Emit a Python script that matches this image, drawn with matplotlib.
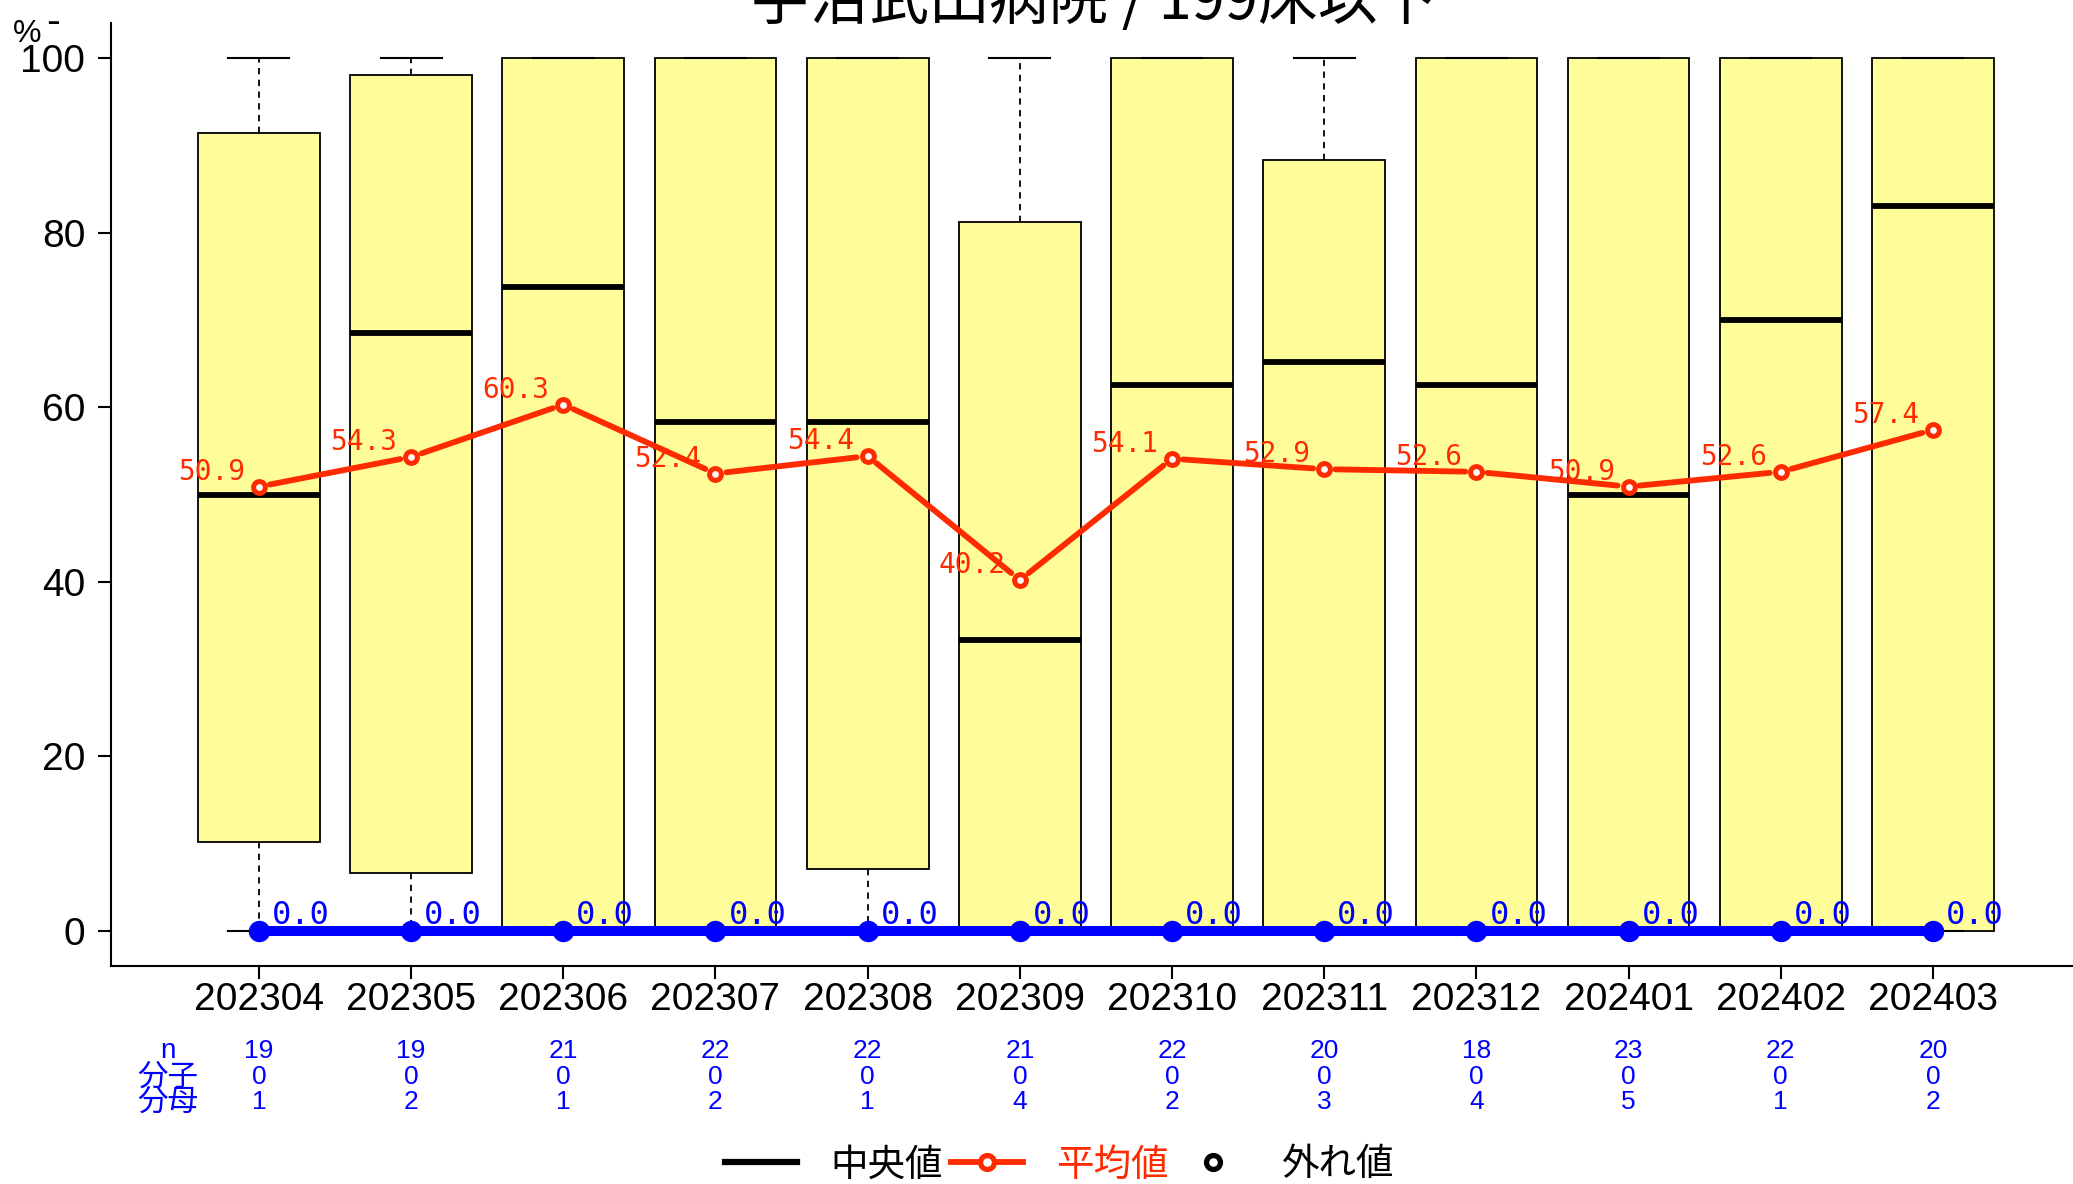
import numpy as np
import matplotlib.pyplot as plt
from matplotlib.lines import Line2D
from matplotlib.transforms import blended_transform_factory

# --- data ---
months = ['202304', '202305', '202306', '202307', '202308', '202309',
          '202310', '202311', '202312', '202401', '202402', '202403']
means = [50.9, 54.3, 60.3, 52.4, 54.4, 40.2, 54.1, 52.9, 52.6, 50.9, 52.6, 57.4]
medians = [50.0, 68.5, 73.8, 58.3, 58.3, 33.3, 62.5, 65.2, 62.5, 50.0, 70.0, 83.0]
q1 = [10.2, 6.7, 0, 0, 7.1, 0, 0, 0, 0, 0, 0, 0]
q3 = [91.4, 98.0, 100, 100, 100, 81.2, 100, 88.3, 100, 100, 100, 100]
whis_lo = [0, 0, 0, 0, 0, 0, 0, 0, 0, 0, 0, 0]
whis_hi = [100, 100, 100, 100, 100, 100, 100, 100, 100, 100, 100, 100]
rates = [0.0, 0.0, 0.0, 0.0, 0.0, 0.0, 0.0, 0.0, 0.0, 0.0, 0.0, 0.0]
n_vals = [19, 19, 21, 22, 22, 21, 22, 20, 18, 23, 22, 20]
bunshi = [0, 0, 0, 0, 0, 0, 0, 0, 0, 0, 0, 0]
bunbo = [1, 2, 1, 2, 1, 4, 2, 3, 4, 5, 1, 2]
title = '宇治武田病院 / 199床以下'

RED = '#ff2b00'
BLUE = '#0000ff'
BOX = '#fffd99'
JP = 'Noto Sans CJK JP'
SANS = 'Liberation Sans'
MONO = 'DejaVu Sans Mono'

plt.rcParams['font.family'] = [SANS, JP]

W, H = 2073, 1184
fig = plt.figure(figsize=(W / 100, H / 100), dpi=100)
ax = fig.add_axes([111 / W, 1 - 966 / H, 1 - 111 / W, (966 - 23) / H])

x = np.arange(len(months))

# boxes
stats = []
for i in range(len(months)):
    stats.append(dict(med=medians[i], q1=q1[i], q3=q3[i],
                      whislo=whis_lo[i], whishi=whis_hi[i], fliers=[]))
ax.bxp(stats, positions=x, widths=0.8, capwidths=0.4, patch_artist=True,
       showfliers=False,
       boxprops=dict(facecolor=BOX, edgecolor='black', linewidth=1.3),
       medianprops=dict(color='black', linewidth=4.2, solid_capstyle='butt'),
       whiskerprops=dict(color='black', linewidth=1.3, linestyle=(0, (3.5, 3))),
       capprops=dict(color='black', linewidth=1.5))

# mean line, segments stop short of the markers
for i in range(len(x) - 1):
    ax.annotate('', xy=(x[i + 1], means[i + 1]), xytext=(x[i], means[i]),
                arrowprops=dict(arrowstyle='-', color=RED, lw=4.2,
                                shrinkA=8, shrinkB=8), zorder=5)
ax.plot(x, means, 'o', ls='none', ms=8.5, mew=3.6, mfc='white', mec=RED, zorder=6)
for xi, m in zip(x, means):
    ax.annotate(f'{m:.1f}', (xi, m), xytext=(-10, 5), textcoords='offset points',
                ha='right', va='baseline', color=RED, fontsize=20,
                family=MONO, zorder=7)

# rate line (blue)
ax.plot(x, rates, '-o', color=BLUE, lw=7.2, ms=14.4, zorder=8)
for xi, r in zip(x, rates):
    ax.annotate(f'{r:.1f}', (xi, r), xytext=(9.4, 5), textcoords='offset points',
                ha='left', va='baseline', color=BLUE, fontsize=23,
                family=MONO, zorder=9)

ax.set_xlim(-0.972, 11.92)
ax.set_ylim(-4, 104)
ax.set_xticks(x)
ax.set_xticklabels(months)
ax.set_yticks([0, 20, 40, 60, 80, 100])
for s in ['top', 'right']:
    ax.spines[s].set_visible(False)
for s in ['left', 'bottom']:
    ax.spines[s].set_linewidth(1.5)
ax.tick_params(axis='both', labelsize=28, width=1.5, length=9.5)
ax.tick_params(axis='y', pad=9)
ax.tick_params(axis='x', pad=2)

# n / numerator / denominator rows under the axis
tr = blended_transform_factory(ax.transData, fig.transFigure)
rows = [(n_vals, 'n', 1051), (bunshi, '分子', 1077), (bunbo, '分母', 1102)]
for vals, lab, ypx in rows:
    yf = 1 - ypx / H
    ax.text(-0.6, yf, lab, transform=tr, ha='center', va='center',
            color=BLUE, fontsize=22 if lab != 'n' else 20,
            family=[JP] if lab != 'n' else [SANS], clip_on=False)
    for xi, v in zip(x, vals):
        ax.text(xi, yf, str(v), transform=tr, ha='center', va='center',
                color=BLUE, fontsize=19, family=[SANS], clip_on=False)

# title and unit
fig.text(1094 / W, 1 - 19 / H, title, ha='center', va='baseline',
         fontsize=43, family=[JP])
fig.text(13 / W, 1 - 42 / H, '%', ha='left', va='baseline', fontsize=23)
fig.text(46 / W, 1 - 23 / H, '-', ha='left', va='center', fontsize=30)

# legend
handles = [
    Line2D([], [], color='black', lw=4.5),
    Line2D([], [], color=RED, lw=4.2, marker='o', ms=10, mew=3.8,
           mfc='white', mec=RED),
    Line2D([], [], color='black', ls='none', marker='o', ms=10, mew=3.8,
           mfc='white', mec='black'),
]
fig.legend(handles, ['中央値', '平均値', '外れ値'], ncol=3, loc='center',
           bbox_to_anchor=(1060 / W, 1 - 1165 / H), frameon=False,
           prop=dict(family=JP, size=27), handlelength=1.92,
           handletextpad=0.88, columnspacing=0.23,
           labelcolor=['black', RED, 'black'])

fig.savefig('out.png', dpi=100)
